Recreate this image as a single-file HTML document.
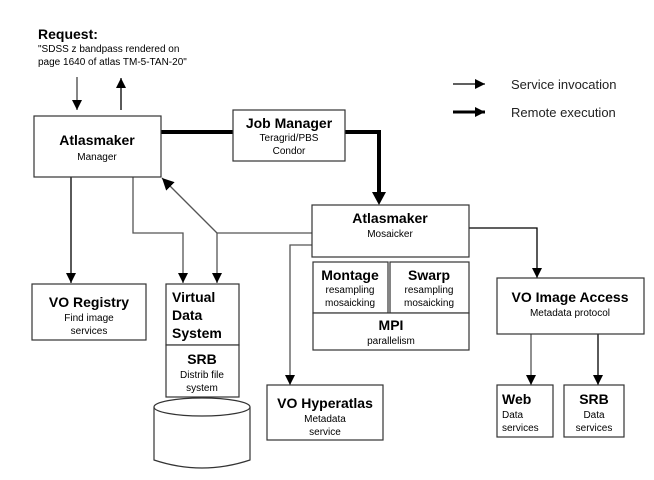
<!DOCTYPE html>
<html><head><meta charset="utf-8"><style>
html,body{margin:0;padding:0;background:#fff;}
svg{display:block;}
text{font-family:"Liberation Sans",Arial,sans-serif;fill:#000;}
.b{font-weight:bold;font-size:14px;}
.s{font-size:10px;}
</style></head><body>
<svg width="654" height="480" viewBox="0 0 654 480" xmlns="http://www.w3.org/2000/svg">
<defs>
<marker id="a" viewBox="0 0 10 10" refX="10" refY="5" markerWidth="10" markerHeight="10" markerUnits="userSpaceOnUse" orient="auto"><path d="M0,0 L10,5 L0,10 z" fill="#000"/></marker>
<marker id="ab" viewBox="0 0 10 10" refX="10" refY="5" markerWidth="12" markerHeight="12" markerUnits="userSpaceOnUse" orient="auto"><path d="M0,0 L10,5 L0,10 z" fill="#000"/></marker>
</defs>
<text x="38" y="39" class="b" style="font-size:14px">Request:</text>
<text x="38" y="52" class="s">"SDSS z bandpass rendered on</text>
<text x="38" y="65" class="s">page 1640 of atlas TM-5-TAN-20"</text>
<line x1="77" y1="77" x2="77" y2="110" stroke="#444" stroke-width="1.3" marker-end="url(#a)"/>
<line x1="121" y1="110" x2="121" y2="78" stroke="#000" stroke-width="1.3" marker-end="url(#a)"/>
<line x1="453" y1="84" x2="485" y2="84" stroke="#000" stroke-width="1.2" marker-end="url(#a)"/>
<line x1="453" y1="112" x2="485" y2="112" stroke="#000" stroke-width="3" marker-end="url(#a)"/>
<text x="511" y="89" style="font-size:13px;fill:#222">Service invocation</text>
<text x="511" y="117" style="font-size:13px;fill:#222">Remote execution</text>
<!-- thick -->
<polyline points="161,132 233,132" fill="none" stroke="#000" stroke-width="4"/>
<polyline points="345,132 379,132 379,195" fill="none" stroke="#000" stroke-width="4"/>
<path d="M372,192 L386,192 L379,205 z" fill="#000"/>
<!-- thin connectors -->
<g fill="none" stroke="#555" stroke-width="1.3">
<line x1="71" y1="177" x2="71" y2="283" stroke="#000" marker-end="url(#a)"/>
<polyline points="133,177 133,233 183,233 183,283" marker-end="url(#a)"/>
<polyline points="312,233 217,233 217,283" marker-end="url(#a)"/>
<line x1="217" y1="233" x2="162" y2="178" marker-end="url(#ab)"/>
<polyline points="312,245 290,245 290,385" marker-end="url(#a)"/>
<polyline points="469,228 537,228 537,278" stroke="#000" marker-end="url(#a)"/>
<line x1="531" y1="334" x2="531" y2="385" marker-end="url(#a)"/>
<line x1="598" y1="334" x2="598" y2="385" stroke="#000" marker-end="url(#a)"/>
</g>
<g fill="#fff" stroke="#333" stroke-width="1.2">
<rect x="34" y="116" width="127" height="61"/>
<rect x="233" y="110" width="112" height="51"/>
<rect x="312" y="205" width="157" height="52"/>
<rect x="313" y="262" width="75" height="51"/>
<rect x="390" y="262" width="79" height="51"/>
<rect x="313" y="313" width="156" height="37"/>
<rect x="497" y="278" width="147" height="56"/>
<rect x="497" y="385" width="56" height="52"/>
<rect x="564" y="385" width="60" height="52"/>
<rect x="267" y="385" width="116" height="55"/>
<rect x="32" y="284" width="114" height="56"/>
<rect x="166" y="284" width="73" height="61"/>
<rect x="166" y="345" width="73" height="52"/>
<path d="M154,407 L154,460 Q202,476 250,460 L250,407"/>
<ellipse cx="202" cy="407" rx="48" ry="9"/>
</g>
<g text-anchor="middle">
<text x="97" y="145" class="b">Atlasmaker</text><text x="97" y="160" class="s">Manager</text>
<text x="289" y="128" class="b">Job Manager</text><text x="289" y="141" class="s">Teragrid/PBS</text><text x="289" y="154" class="s">Condor</text>
<text x="390" y="223" class="b">Atlasmaker</text><text x="390" y="237" class="s">Mosaicker</text>
<text x="350" y="280" class="b">Montage</text><text x="350" y="293" class="s">resampling</text><text x="350" y="306" class="s">mosaicking</text>
<text x="429" y="280" class="b">Swarp</text><text x="429" y="293" class="s">resampling</text><text x="429" y="306" class="s">mosaicking</text>
<text x="391" y="330" class="b">MPI</text><text x="391" y="344" class="s">parallelism</text>
<text x="570" y="302" class="b">VO Image Access</text><text x="570" y="316" class="s">Metadata protocol</text>
<text x="594" y="404" class="b">SRB</text><text x="594" y="418" class="s">Data</text><text x="594" y="431" class="s">services</text>
<text x="325" y="408" class="b">VO Hyperatlas</text><text x="325" y="422" class="s">Metadata</text><text x="325" y="435" class="s">service</text>
<text x="89" y="307" class="b">VO Registry</text><text x="89" y="321" class="s">Find image</text><text x="89" y="334" class="s">services</text>
<text x="202" y="364" class="b">SRB</text><text x="202" y="378" class="s">Distrib file</text><text x="202" y="391" class="s">system</text>
</g>
<text x="502" y="404" class="b">Web</text><text x="502" y="418" class="s">Data</text><text x="502" y="431" class="s">services</text>
<text x="172" y="302" class="b">Virtual</text><text x="172" y="320" class="b">Data</text><text x="172" y="338" class="b">System</text>
</svg>
</body></html>
